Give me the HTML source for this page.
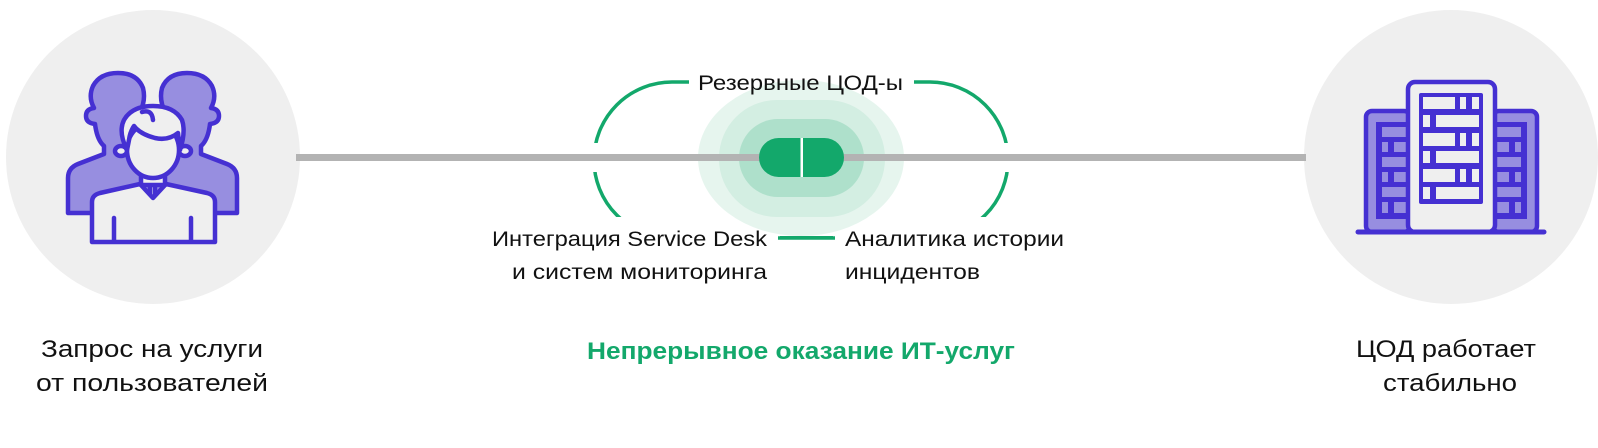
<!DOCTYPE html>
<html><head><meta charset="utf-8"><style>
html,body{margin:0;padding:0;background:#fff;}
svg{display:block;}
text{font-family:"Liberation Sans",Arial,sans-serif;}
</style></head><body>
<svg width="1598" height="448" viewBox="0 0 1598 448" xmlns="http://www.w3.org/2000/svg">
<rect width="1598" height="448" fill="#fff"/>
<circle cx="153" cy="157" r="147" fill="#efefef"/>
<circle cx="1451" cy="157" r="147" fill="#efefef"/>

<path d="M672,82 H930 A78,78 0 0 1 930,238 H672 A78,78 0 0 1 672,82 Z" fill="none" stroke="#13a86b" stroke-width="3.5"/>
<rect x="689" y="68" width="225" height="28" fill="#fff"/>
<rect x="580" y="143" width="30" height="29" fill="#fff"/>
<rect x="992" y="143" width="30" height="29" fill="#fff"/>
<rect x="470" y="217" width="308" height="40" fill="#fff"/>
<rect x="835" y="217" width="260" height="40" fill="#fff"/>

<ellipse cx="801" cy="158" rx="103" ry="78" fill="#e6f5ee"/>
<rect x="719" y="100" width="166" height="117" rx="58" fill="#d3eee2"/>
<rect x="739" y="119" width="125" height="78" rx="39" fill="#aee0cb"/>

<rect x="296" y="154" width="1010" height="7" fill="#b3b3b3"/>
<rect x="759" y="138" width="85" height="39" rx="19.5" fill="#13a86b"/>
<rect x="800.5" y="138" width="2.5" height="39" fill="#fff"/>

<g stroke="#4530d2" stroke-width="4.5" stroke-linejoin="round" stroke-linecap="round">
<path d="M68,213 V178 Q68,168 78,164 L104,154 V146 Q97,140 95,124 Q86,123 86,116 Q86,109 94,108 Q88,97 93,86 Q100,73 118,73 Q137,73 143,88 Q146,100 140,112 L150,150 V213 Z" fill="#978ee0"/>
<path d="M68,213 V178 Q68,168 78,164 L104,154 V146 Q97,140 95,124 Q86,123 86,116 Q86,109 94,108 Q88,97 93,86 Q100,73 118,73 Q137,73 143,88 Q146,100 140,112 L150,150 V213 Z" fill="#978ee0" transform="translate(305,0) scale(-1,1)"/>
<path d="M92,242 V202 Q92,195 100,193 L140,184 L153,198 L166,184 L207,193 Q215,195 215,202 V242 Z" fill="#efefef"/>
<rect x="141" y="170" width="24" height="15" fill="#efefef"/>
<ellipse cx="121" cy="151" rx="6" ry="5" fill="#efefef"/>
<ellipse cx="185" cy="151" rx="6" ry="5" fill="#efefef"/>
<ellipse cx="153" cy="150" rx="26" ry="28" fill="#efefef"/>
<path d="M127,150 Q118,132 124,120 Q132,106 153,106 Q174,106 182,120 Q186,132 180,150 L178,133 Q168,141 155,138 Q140,134 134,126 Q130,132 129,140 Z" fill="#efefef"/>
<path d="M142,112 Q152,109 153,120" fill="none"/>
<line x1="114" y1="218" x2="114" y2="241"/>
<line x1="191" y1="218" x2="191" y2="241"/>
</g>

<g>
<g>
<rect x="1366" y="111" width="44" height="121" rx="6" fill="#978ee0" stroke="#4530d2" stroke-width="4.5"/>
<rect x="1376" y="122" width="34" height="97" fill="#4530d2"/>
<rect x="1382" y="127" width="26" height="10" fill="#978ee0"/>
<rect x="1382" y="142" width="6" height="10" fill="#978ee0"/><rect x="1394" y="142" width="14" height="10" fill="#978ee0"/>
<rect x="1382" y="157" width="26" height="10" fill="#978ee0"/>
<rect x="1382" y="172" width="6" height="10" fill="#978ee0"/><rect x="1394" y="172" width="14" height="10" fill="#978ee0"/>
<rect x="1382" y="187" width="26" height="10" fill="#978ee0"/>
<rect x="1382" y="202" width="6" height="11" fill="#978ee0"/><rect x="1394" y="202" width="14" height="11" fill="#978ee0"/>
</g>
<g transform="translate(2903,0) scale(-1,1)">
<rect x="1366" y="111" width="44" height="121" rx="6" fill="#978ee0" stroke="#4530d2" stroke-width="4.5"/>
<rect x="1376" y="122" width="34" height="97" fill="#4530d2"/>
<rect x="1382" y="127" width="26" height="10" fill="#978ee0"/>
<rect x="1382" y="142" width="6" height="10" fill="#978ee0"/><rect x="1394" y="142" width="14" height="10" fill="#978ee0"/>
<rect x="1382" y="157" width="26" height="10" fill="#978ee0"/>
<rect x="1382" y="172" width="6" height="10" fill="#978ee0"/><rect x="1394" y="172" width="14" height="10" fill="#978ee0"/>
<rect x="1382" y="187" width="26" height="10" fill="#978ee0"/>
<rect x="1382" y="202" width="6" height="11" fill="#978ee0"/><rect x="1394" y="202" width="14" height="11" fill="#978ee0"/>
</g>
<rect x="1408" y="82" width="87" height="150" rx="7" fill="#efefef" stroke="#4530d2" stroke-width="4.5"/>
<rect x="1419" y="93" width="64" height="111" rx="2" fill="#4530d2"/>
<g fill="#efefef">
<rect x="1423" y="97" width="32" height="12"/><rect x="1460" y="97" width="6" height="12"/><rect x="1472" y="97" width="7" height="12"/>
<rect x="1423" y="115" width="7" height="12"/><rect x="1436" y="115" width="43" height="12"/>
<rect x="1423" y="133" width="32" height="13"/><rect x="1460" y="133" width="6" height="13"/><rect x="1472" y="133" width="7" height="13"/>
<rect x="1423" y="151" width="7" height="12"/><rect x="1436" y="151" width="43" height="12"/>
<rect x="1423" y="169" width="32" height="13"/><rect x="1460" y="169" width="6" height="13"/><rect x="1472" y="169" width="7" height="13"/>
<rect x="1423" y="187" width="7" height="12"/><rect x="1436" y="187" width="43" height="12"/>
</g>
<line x1="1358" y1="232" x2="1544" y2="232" stroke="#4530d2" stroke-width="5" stroke-linecap="round"/>
</g>

<g font-size="21" fill="#111">
<text x="698" y="90" textLength="205" lengthAdjust="spacingAndGlyphs">Резервные ЦОД-ы</text>
<text x="492" y="246" textLength="275" lengthAdjust="spacingAndGlyphs">Интеграция Service Desk</text>
<text x="512" y="279" textLength="255" lengthAdjust="spacingAndGlyphs">и систем мониторинга</text>
<text x="845" y="246" textLength="219" lengthAdjust="spacingAndGlyphs">Аналитика истории</text>
<text x="845" y="279" textLength="135" lengthAdjust="spacingAndGlyphs">инцидентов</text>
</g>
<rect x="780" y="236" width="53" height="3.5" fill="#13a86b"/>

<g font-size="24" fill="#111">
<text x="41" y="357" textLength="222" lengthAdjust="spacingAndGlyphs">Запрос на услуги</text>
<text x="36" y="391" textLength="232" lengthAdjust="spacingAndGlyphs">от пользователей</text>
<text x="1356" y="357" textLength="180" lengthAdjust="spacingAndGlyphs">ЦОД работает</text>
<text x="1383" y="391" textLength="134" lengthAdjust="spacingAndGlyphs">стабильно</text>
</g>
<text x="587" y="359" font-size="24" font-weight="bold" fill="#13a86b" textLength="428" lengthAdjust="spacingAndGlyphs">Непрерывное оказание ИТ-услуг</text>
</svg>
</body></html>
